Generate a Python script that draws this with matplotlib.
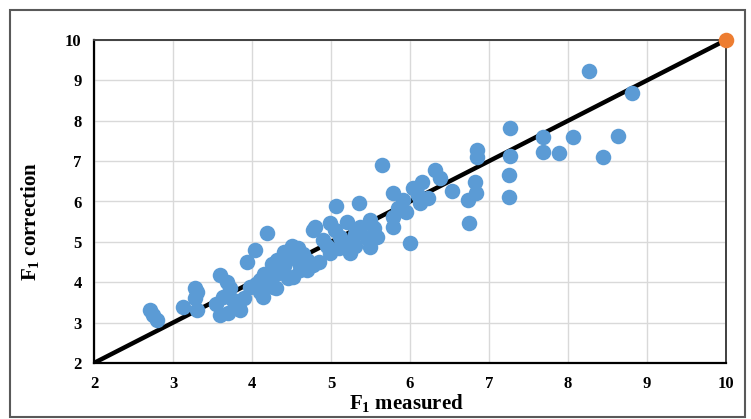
import matplotlib.pyplot as plt
from matplotlib.patches import Rectangle

plt.rcParams['font.family'] = ['Liberation Serif', 'DejaVu Serif']
plt.rcParams['font.weight'] = 'bold'
plt.rcParams['mathtext.fontset'] = 'custom'
plt.rcParams['mathtext.rm'] = 'Liberation Serif:bold'
plt.rcParams['mathtext.bf'] = 'Liberation Serif:bold'
plt.rcParams['mathtext.default'] = 'bf'

# measured vs corrected F1 values
f1_measured = [
    2.71, 2.75, 2.80, 3.13, 3.28, 3.30, 3.28, 3.30, 3.59, 3.63, 3.59, 3.55,
    3.68, 3.72, 3.76, 3.85, 3.70, 3.94, 4.04, 4.19, 3.90, 3.97, 4.10, 4.14,
    4.20, 4.27, 4.30, 4.35, 4.32, 4.40, 4.45, 4.48, 4.52, 4.55, 4.60, 4.61,
    4.65, 4.70, 4.77, 4.48, 4.40, 4.25, 4.15, 4.05, 4.30, 4.10, 4.50, 4.58,
    4.80, 4.77, 4.85, 4.70,
    4.90, 4.95, 4.99, 4.99, 5.06, 5.11, 5.05, 5.15, 5.20, 5.24, 5.24, 5.30,
    5.35, 5.37, 5.45, 5.49, 5.49, 5.58, 5.55, 5.10, 5.30,
    5.65, 5.79, 5.79, 5.79, 5.91, 6.00, 6.04, 6.13, 6.15, 6.23, 6.32, 6.38,
    5.85, 5.95, 6.10,
    6.53, 6.82, 6.84, 6.73, 6.75, 6.85, 6.85, 7.25, 7.25, 7.27, 7.27,
    7.68, 7.68, 7.89, 8.06, 8.44, 8.63, 8.27, 8.81,
]
f1_correction = [
    3.31, 3.20, 3.06, 3.39, 3.86, 3.75, 3.61, 3.31, 4.18, 3.63, 3.19, 3.45,
    4.00, 3.85, 3.56, 3.31, 3.25, 4.50, 4.80, 5.22, 3.60, 3.88, 4.05, 3.63,
    4.00, 3.88, 4.20, 4.30, 4.55, 4.40, 4.10, 4.80, 4.13, 4.60, 4.48, 4.30,
    4.70, 4.55, 4.43, 4.70, 4.75, 4.45, 4.20, 3.95, 3.85, 3.75, 4.90, 4.85,
    5.37, 5.29, 4.50, 4.30,
    5.04, 4.90, 5.46, 4.72, 5.89, 5.12, 5.30, 5.00, 5.49, 4.72, 4.97, 5.20,
    5.96, 5.37, 5.10, 5.54, 4.87, 5.12, 5.35, 4.85, 4.90,
    6.90, 6.20, 5.62, 5.36, 6.03, 4.97, 6.33, 5.96, 6.48, 6.08, 6.78, 6.58,
    5.85, 5.75, 6.15,
    6.26, 6.48, 6.20, 6.03, 5.47, 7.27, 7.10, 6.65, 6.10, 7.82, 7.12,
    7.60, 7.22, 7.20, 7.60, 7.10, 7.62, 9.22, 8.68,
]

# 1:1 reference line
line_x = [2, 10]
line_y = [2, 10]

fig = plt.figure(figsize=(7.51, 4.19), dpi=100)
ax = fig.add_axes([94 / 751, 1 - 363 / 419, 632 / 751, 323 / 419])

ax.plot(line_x, line_y, color='black', linewidth=3.2, solid_capstyle='butt', zorder=2)
ax.scatter(f1_measured, f1_correction, s=125, color='#5B9BD5', linewidths=0, zorder=3)
ax.scatter([10], [10], s=125, color='#ED7D31', linewidths=0, zorder=4, clip_on=False)

ax.set_xlim(2, 10)
ax.set_ylim(2, 10)
ax.set_xticks(range(2, 11))
ax.set_yticks(range(2, 11))
ax.tick_params(length=0, labelsize=12, pad=9)
ax.grid(True, color='#D9D9D9', linewidth=1.0)
ax.set_axisbelow(True)

for side in ['left', 'bottom']:
    ax.spines[side].set_color('black')
    ax.spines[side].set_linewidth(1.6)
for side in ['top', 'right']:
    ax.spines[side].set_color('#404040')
    ax.spines[side].set_linewidth(1.4)

ax.set_xlabel('F$_1$ measured', fontsize=15, fontweight='bold', va='center')
ax.set_ylabel('F$_1$ correction', fontsize=15, fontweight='bold', va='center')
ax.xaxis.set_label_coords(0.495, -0.124)
ax.yaxis.set_label_coords(-0.101, 0.437)

# chart area border
fig.patches.append(Rectangle((10 / 751, 2 / 419), 735 / 751, 407 / 419,
                             transform=fig.transFigure, fill=False,
                             edgecolor='#595959', linewidth=1.5))

fig.savefig('out.png', dpi=100)
